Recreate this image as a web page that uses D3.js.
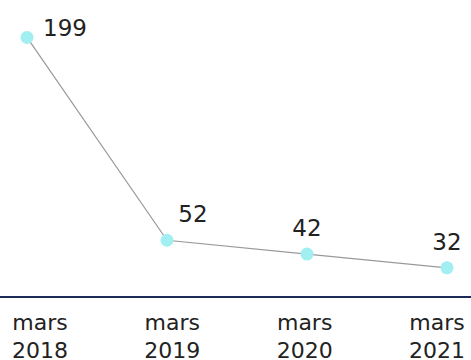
<!DOCTYPE html>
<html>
<head>
<meta charset="utf-8">
<script src="https://cdn.jsdelivr.net/npm/d3@7"></script>
<style>
  html, body { margin: 0; padding: 0; background: #fff; }
  svg { display: block; font-family: "DejaVu Sans", sans-serif; }
</style>
</head>
<body>
<div class="chart"></div>
<script>
// data
const years = ['2018', '2019', '2020', '2021']
const month = 'mars'
const values = [199, 52, 42, 32]

const width = 471
const height = 360

const svg = d3.select('.chart')
  .append('svg')
    .attr('width', width)
    .attr('height', height)

// point positions
const xScale = d3.scalePoint()
  .domain(years)
  .range([27, 447])

// tick labels are pulled in from the edges
const xLabelScale = d3.scalePoint()
  .domain(years)
  .range([40, 437])

const yScale = d3.scaleLinear()
  .domain([0, 200])
  .range([312, 36])

const axisY = 297

// bottom axis line
svg.append('line')
  .attr('x1', 0)
  .attr('x2', width)
  .attr('y1', axisY)
  .attr('y2', axisY)
  .style('stroke', '#1c2b5a')
  .style('stroke-width', 2)

// tick labels, two lines each
const ticks = svg.append('g')
  .selectAll('text')
  .data(years)
  .join('text')
    .attr('text-anchor', 'middle')
    .attr('x', d => xLabelScale(d))
    .style('font-size', '22px')
    .style('fill', '#222')

ticks.append('tspan')
  .attr('x', d => xLabelScale(d))
  .attr('y', 330)
  .text(month)

ticks.append('tspan')
  .attr('x', d => xLabelScale(d))
  .attr('y', 358)
  .text(d => d)

const points = years.map((y, i) => ({ year: y, value: values[i] }))

const line = d3.line()
  .x(d => xScale(d.year))
  .y(d => yScale(d.value))

svg.append('path')
  .datum(points)
  .attr('d', line)
  .style('fill', 'none')
  .style('stroke', '#999')
  .style('stroke-width', 1.2)

svg.append('g')
  .selectAll('circle')
  .data(points)
  .join('circle')
    .attr('cx', d => xScale(d.year))
    .attr('cy', d => yScale(d.value))
    .attr('r', 6.5)
    .style('fill', '#a2eff1')

// value labels: first one sits to the right, the one after a steep drop is nudged right,
// the others sit centred above the point
svg.append('g')
  .selectAll('text')
  .data(points)
  .join('text')
    .attr('text-anchor', (d, i) => i === 0 ? 'start' : 'middle')
    .attr('x', (d, i) => {
      const x = xScale(d.year)
      if (i === 0) return x + 16
      const drop = yScale(d.value) - yScale(points[i - 1].value)
      return drop > 60 ? x + 26 : x
    })
    .attr('y', (d, i) => yScale(d.value) + (i === 0 ? -1 : -18))
    .style('font-size', '23px')
    .style('fill', '#222')
    .text(d => d.value)
</script>
</body>
</html>
